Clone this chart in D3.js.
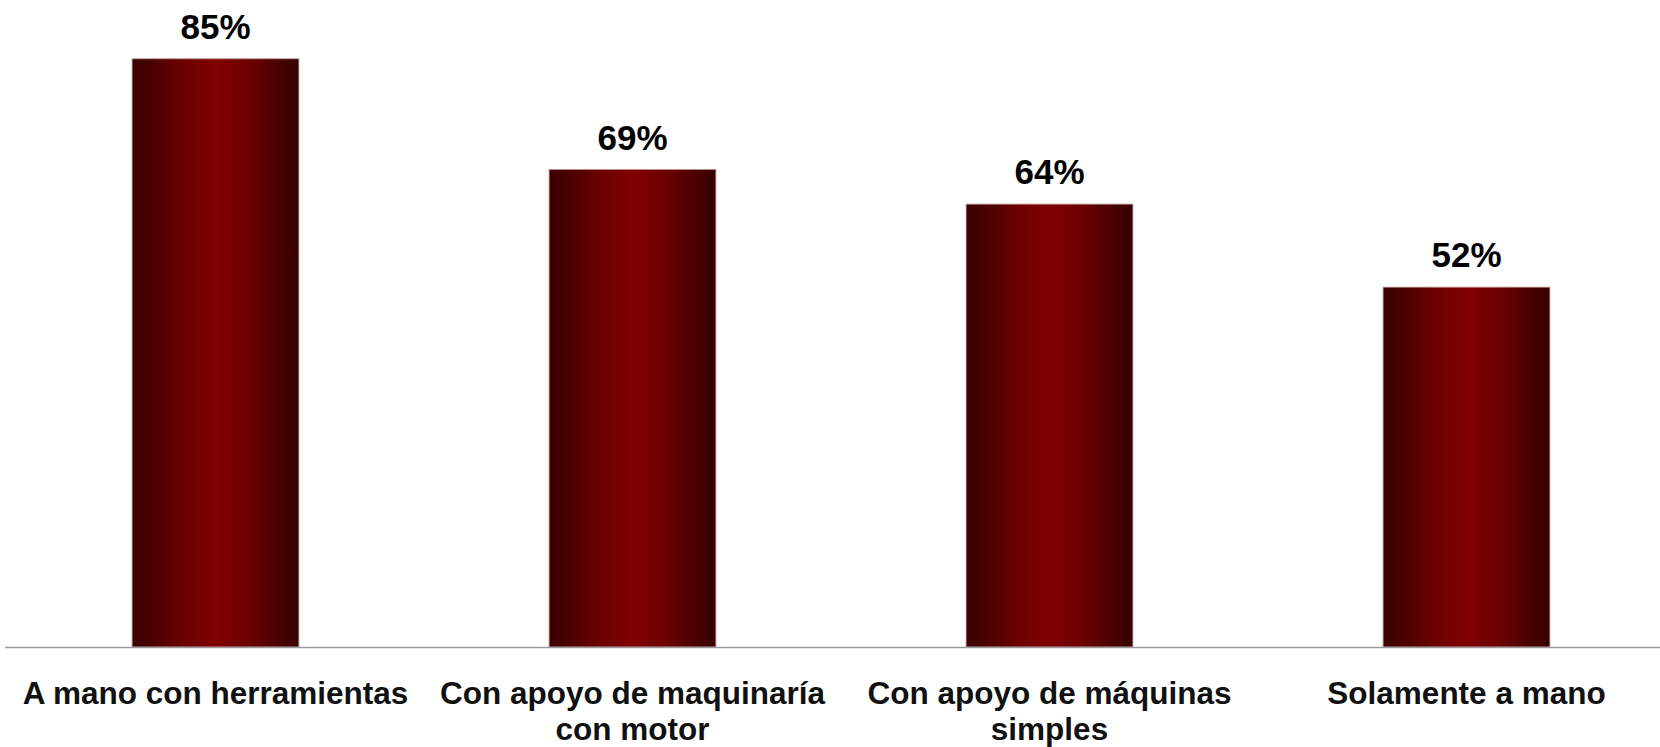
<!DOCTYPE html>
<html>
<head>
<meta charset="utf-8">
<script src="https://cdn.jsdelivr.net/npm/d3@7"></script>
<style>
  html, body { margin: 0; padding: 0; background: #ffffff; }
  svg { display: block; }
</style>
</head>
<body>
<svg id="chart" width="1660" height="747"></svg>
<script>
// ---- data ----
const categories = [
  "A mano con herramientas",
  "Con apoyo de maquinaría\ncon motor",
  "Con apoyo de máquinas\nsimples",
  "Solamente a mano"
];
const values = [85, 69, 64, 52];
const valueLabels = ["85%", "69%", "64%", "52%"];

// ---- layout ----
const W = 1660, H = 747;
const baseY = 647;
const svg = d3.select("#chart");

const x = d3.scaleBand()
  .domain(categories)
  .range([7, 1675])
  .paddingInner(0.6)
  .paddingOuter(0.3);

const y = d3.scaleLinear()
  .domain([0, 100])
  .range([baseY, baseY - 692]);

// gradient
const defs = svg.append("defs");
const grad = defs.append("linearGradient")
  .attr("id", "barGrad")
  .attr("x1", "0%").attr("x2", "100%")
  .attr("y1", "0%").attr("y2", "0%");
[
  [0, "#3a0000"],
  [0.12, "#4a0000"],
  [0.3, "#6a0000"],
  [0.5, "#820000"],
  [0.7, "#6c0000"],
  [0.88, "#4a0000"],
  [1, "#380000"]
].forEach(([o, c]) => grad.append("stop").attr("offset", o).attr("stop-color", c));

// bars
svg.append("g").selectAll("rect")
  .data(values)
  .join("rect")
  .attr("x", (d, i) => x(categories[i]))
  .attr("y", d => y(d))
  .attr("width", x.bandwidth())
  .attr("height", d => y(0) - y(d))
  .attr("fill", "url(#barGrad)")
  .attr("stroke", "#b89090")
  .attr("stroke-width", 0.8);

// axis line
svg.append("line")
  .attr("x1", 5).attr("x2", W)
  .attr("y1", y(0) + 0.5).attr("y2", y(0) + 0.5)
  .attr("stroke", "#9a9a9a")
  .attr("stroke-width", 1.5);

// value labels
svg.append("g").selectAll("text")
  .data(values)
  .join("text")
  .attr("x", (d, i) => x(categories[i]) + x.bandwidth() / 2)
  .attr("y", d => y(d) - 20)
  .attr("text-anchor", "middle")
  .attr("font-family", "'Liberation Sans', Arial, sans-serif")
  .attr("font-weight", "bold")
  .attr("font-size", "35px")
  .attr("fill", "#000")
  .text((d, i) => valueLabels[i]);

// category labels
const cat = svg.append("g").selectAll("text")
  .data(categories)
  .join("text")
  .attr("x", d => x(d) + x.bandwidth() / 2)
  .attr("y", 704)
  .attr("text-anchor", "middle")
  .attr("font-family", "'Liberation Sans', Arial, sans-serif")
  .attr("font-weight", "bold")
  .attr("font-size", "31.5px")
  .attr("fill", "#111");
cat.each(function(d) {
  const t = d3.select(this);
  d.split("\n").forEach((line, i) => {
    t.append("tspan")
      .attr("x", x(d) + x.bandwidth() / 2)
      .attr("dy", i === 0 ? 0 : 36)
      .text(line);
  });
});
</script>
</body>
</html>
